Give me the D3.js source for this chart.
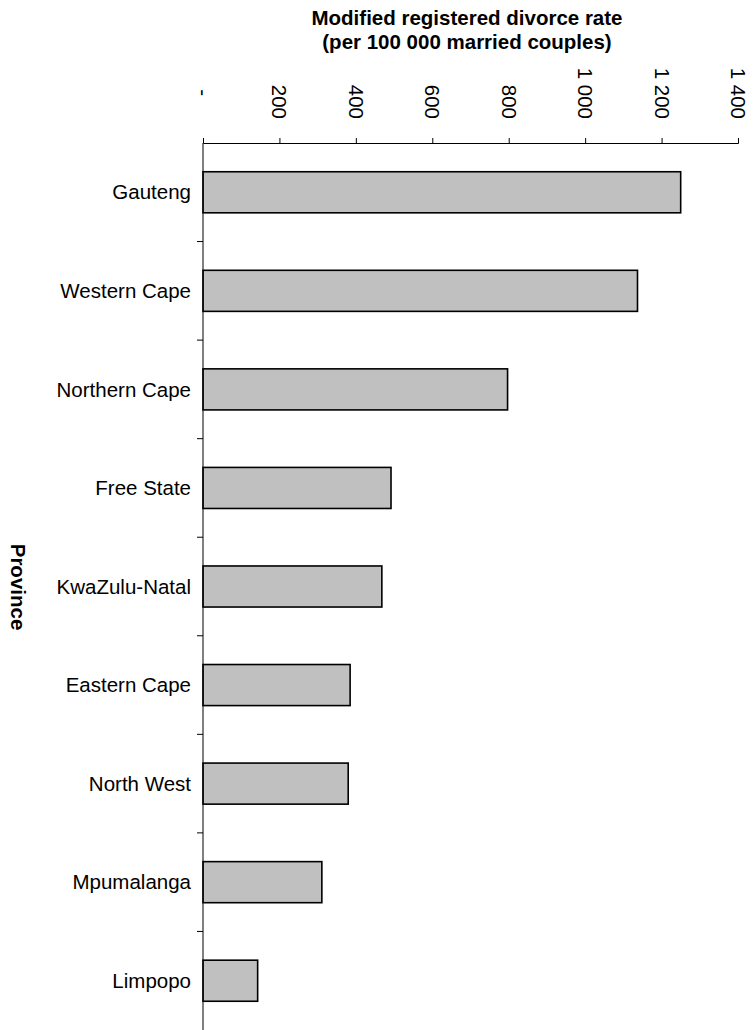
<!DOCTYPE html>
<html>
<head>
<meta charset="utf-8">
<script src="https://cdn.jsdelivr.net/npm/d3@7"></script>
<style>
  html, body { margin: 0; padding: 0; background: #fff; }
  svg { display: block; font-family: "Liberation Sans", Arial, sans-serif; }
  text { white-space: pre; }
</style>
</head>
<body>
<svg id="chart" width="756" height="1030"></svg>
<script>
const provinces = ["Gauteng", "Western Cape", "Northern Cape", "Free State", "KwaZulu-Natal",
                   "Eastern Cape", "North West", "Mpumalanga", "Limpopo"];
const divorceRates = [1250, 1137, 797, 492, 468, 385, 380, 311, 143];
const xTickValues = [0, 200, 400, 600, 800, 1000, 1200, 1400];
const xTickLabels = ["-", "200", "400", "600", "800", "1 000", "1 200", "1 400"];
const titleLines = ["Modified registered divorce rate", "(per 100 000 married couples)"];
const yAxisTitle = "Province";

(function () {
const data = provinces.map((p, i) => ({ province: p, value: divorceRates[i] }));

const svg = d3.select("#chart");
const mLeft = 203, mRight = 738, mTop = 143, mBottom = 1030;
const FS = 20.5;

const x = d3.scaleLinear().domain([0, 1400]).range([mLeft, mRight]);
const gap = 1.4 / 2.4;
const y = d3.scaleBand().domain(provinces).range([mTop, mBottom])
  .paddingInner(gap).paddingOuter(gap / 2);

// Title
svg.append("g").selectAll("text").data(titleLines).join("text")
  .attr("x", 467).attr("y", (d, i) => 25 + i * 24)
  .attr("text-anchor", "middle")
  .attr("font-weight", "bold").attr("font-size", FS)
  .attr("fill", "#000")
  .text(d => d);

// Bars
svg.append("g").selectAll("rect").data(data).join("rect")
  .attr("x", x(0))
  .attr("y", d => y(d.province))
  .attr("width", d => x(d.value) - x(0))
  .attr("height", y.bandwidth())
  .attr("fill", "#c0c0c0")
  .attr("stroke", "#000")
  .attr("stroke-width", 1.6);

// Top value axis
const xAxis = d3.axisTop(x)
  .tickValues(xTickValues)
  .tickSize(5)
  .tickPadding(0)
  .tickFormat((d, i) => xTickLabels[i]);
const gx = svg.append("g").attr("transform", `translate(0,${mTop})`).call(xAxis);
gx.attr("font-family", null);
gx.select(".domain").attr("stroke", "#000").attr("stroke-width", 1);
gx.selectAll(".tick line").attr("stroke", "#000");
gx.selectAll(".tick text")
  .attr("font-size", FS).attr("fill", "#000")
  .attr("text-anchor", "end")
  .attr("dominant-baseline", "central")
  .attr("x", d => d === 0 ? -47 : -24)
  .attr("y", 0).attr("dy", 0)
  .attr("transform", "rotate(90)");

// Left category axis (line with boundary ticks)
const gy = svg.append("g");
gy.append("line")
  .attr("x1", mLeft).attr("x2", mLeft)
  .attr("y1", mTop).attr("y2", mBottom)
  .attr("stroke", "#000").attr("stroke-width", 1);
const step = y.step();
const boundaries = provinces.slice(1).map(p => y(p) - (step - y.bandwidth()) / 2);
gy.selectAll("line.b").data(boundaries).join("line")
  .attr("class", "b")
  .attr("x1", mLeft - 6).attr("x2", mLeft)
  .attr("y1", d => d).attr("y2", d => d)
  .attr("stroke", "#000").attr("stroke-width", 1);
gy.selectAll("text").data(provinces).join("text")
  .attr("x", mLeft - 12)
  .attr("y", d => y(d) + y.bandwidth() / 2)
  .attr("dy", "0.35em")
  .attr("text-anchor", "end")
  .attr("font-size", FS).attr("fill", "#000")
  .text(d => d);

// Y-axis title
svg.append("text")
  .attr("transform", `translate(18,${587}) rotate(90)`)
  .attr("text-anchor", "middle")
  .attr("dominant-baseline", "central")
  .attr("font-weight", "bold").attr("font-size", FS)
  .attr("fill", "#000")
  .text(yAxisTitle);
})();
</script>
</body>
</html>
